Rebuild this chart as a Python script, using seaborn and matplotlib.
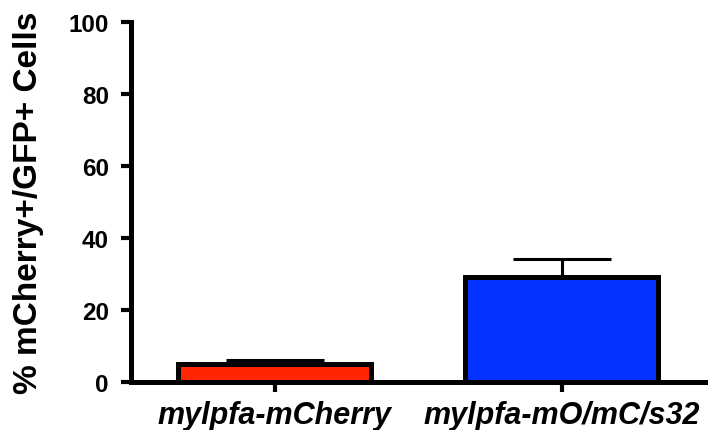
import matplotlib
matplotlib.use("Agg")
import matplotlib.pyplot as plt
import seaborn as sns
import pandas as pd

categories = ["mylpfa-mCherry", "mylpfa-mO/mC/s32"]
means = [5.0, 29.3]
sem = [1.0, 4.9]
colors = ["#FF2600", "#0433FF"]
yticks = [0, 20, 40, 60, 80, 100]

sns.set_theme(style="ticks")
plt.rcParams["font.family"] = ["Liberation Sans", "DejaVu Sans"]
plt.rcParams["text.color"] = "black"
plt.rcParams["axes.labelcolor"] = "black"
plt.rcParams["xtick.color"] = "black"
plt.rcParams["ytick.color"] = "black"

df = pd.DataFrame({"group": categories, "value": means})

fig = plt.figure(figsize=(7.11, 4.31), dpi=100)
ax = fig.add_axes([131 / 711, 48 / 431, (705 - 131) / 711, (383 - 23) / 431])

sns.barplot(data=df, x="group", y="value", hue="group", palette=colors,
            saturation=1, width=0.67, edgecolor="black", linewidth=3.6,
            errorbar=None, legend=False, ax=ax, zorder=3)

# upward-only error bars
ax.errorbar(range(len(categories)), means, yerr=[[0] * len(sem), sem],
            fmt="none", ecolor="black", elinewidth=2.2, capsize=35,
            capthick=2.2, zorder=2)

ax.set_xlim(-0.5, 1.5)
ax.set_ylim(0, 100)
ax.set_yticks(yticks)
ax.set_yticklabels([str(t) for t in yticks], fontsize=17.5, fontweight="bold")
ax.set_xticks(range(len(categories)))
ax.set_xticklabels(categories, fontsize=22, fontweight="bold", style="italic")
ax.set_xlabel("")
ax.set_ylabel("% mCherry+/GFP+ Cells", fontsize=24, fontweight="bold")
ax.yaxis.set_label_coords(-0.152, 0.5)

for side in ["top", "right"]:
    ax.spines[side].set_visible(False)
for side in ["left", "bottom"]:
    ax.spines[side].set_linewidth(3.6)
    ax.spines[side].set_color("black")
    ax.spines[side].set_zorder(4)
ax.tick_params(axis="both", width=3, length=7, color="black")
ax.tick_params(axis="y", pad=9)
ax.tick_params(axis="x", pad=6)

fig.savefig("out.png", dpi=100)
